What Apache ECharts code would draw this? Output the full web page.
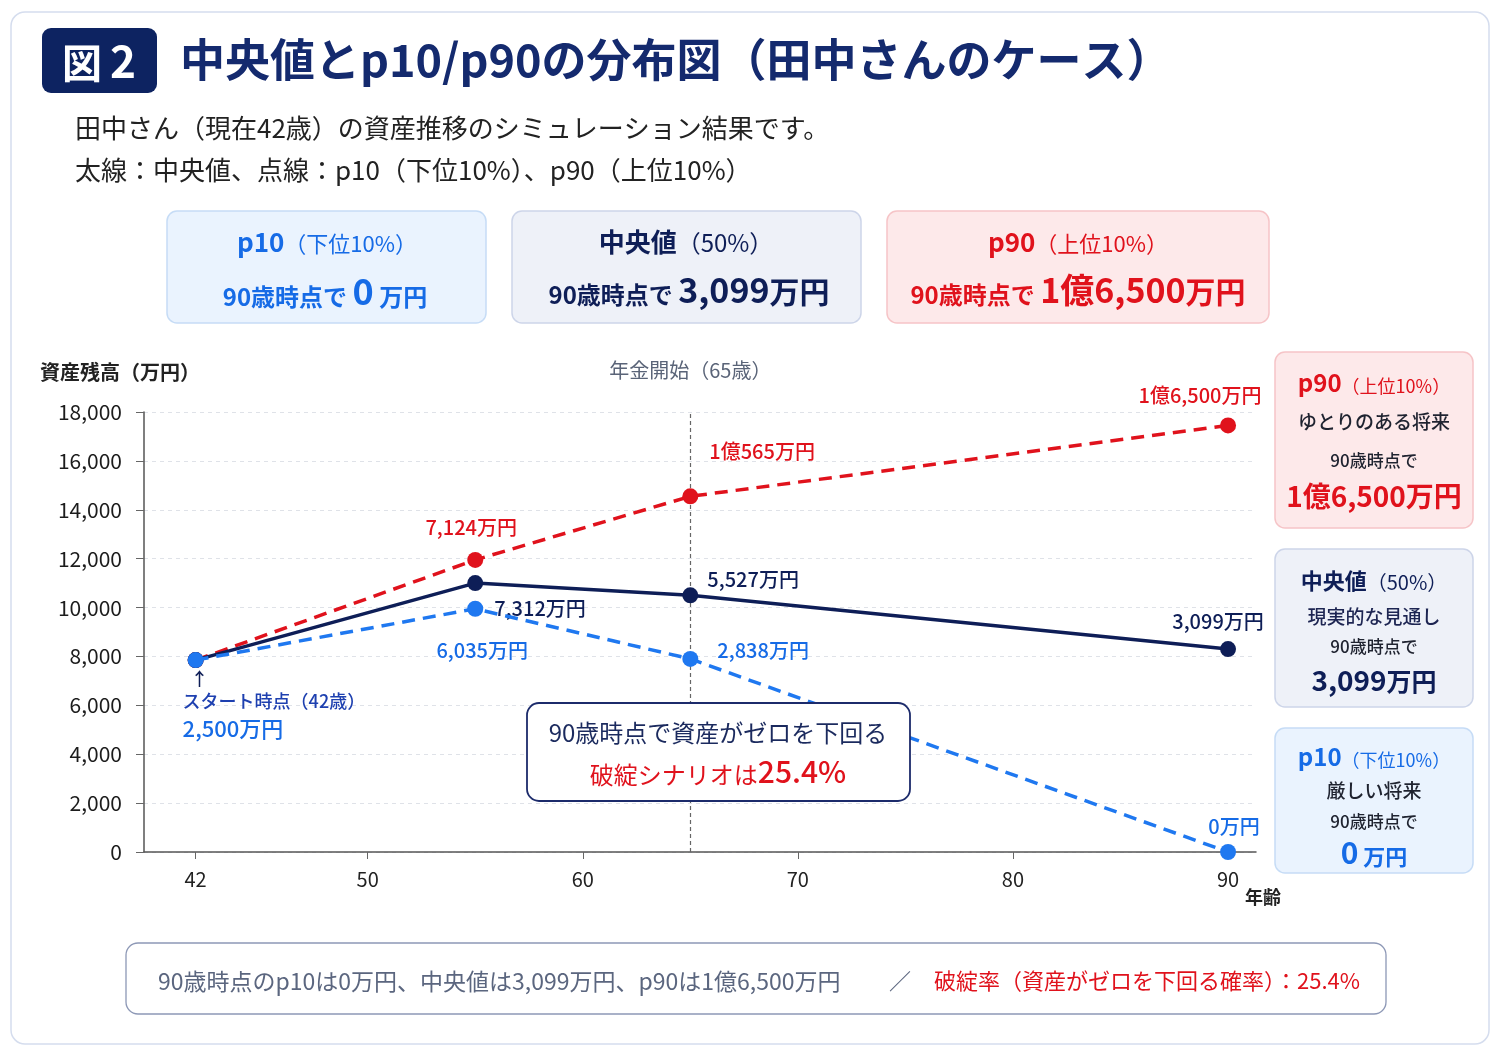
<!DOCTYPE html>
<html><head><meta charset="utf-8">
<script src="https://cdn.jsdelivr.net/npm/echarts@6.0.0/dist/echarts.min.js"></script>
<style>html,body{margin:0;padding:0;background:#fff}#c{width:1499px;height:1049px}</style>
</head><body><div id="c"></div>
<script>
// ---- data ----
const ages = [42, 55, 65, 90];
const p90Values = [7850, 11950, 14550, 17450];
const medianValues = [7850, 11000, 10500, 8300];
const p10Values = [7850, 9950, 7900, 0];
const p90Labels = ['', '7,124万円', '1億565万円', '1億6,500万円'];
const medianLabels = ['', '7,312万円', '5,527万円', '3,099万円'];
const p10Labels = ['', '6,035万円', '2,838万円', '0万円'];
const startLabel = ['↑', 'スタート時点（42歳）', '2,500万円'];
const xTickValues = [42, 50, 60, 70, 80, 90];
const yMin = 0, yMax = 18000, yInterval = 2000;
const pensionAge = 65;

// ---- style ----
const FF = '"Noto Sans CJK JP", "Noto Sans", sans-serif';
const NAVY = '#0e1e57', RED = '#e0121c', BLUE = '#1f78f0', BLUE_T = '#166be6', DARK = '#1f2330', GRAY = '#5b667f';
const PINK_F = '#fde9ea', PINK_S = '#f6c4c7', LB_F = '#eaf3fe', LB_S = '#c6dcf6', GB_F = '#eef1f8', GB_S = '#cdd5e9';

function mkData(vals, labels, cfgs, color) {
  return ages.map((a, i) => {
    const item = { value: [a, vals[i]] };
    if (cfgs[i]) item.label = Object.assign({ show: true, formatter: labels[i], color: color, fontSize: 20, fontFamily: FF, fontWeight: 500 }, cfgs[i]);
    return item;
  });
}
const p90Cfg = [null, { position: 'top', distance: 14, offset: [-4, 0] }, { position: 'right', distance: 11, offset: [0, -45] }, { position: 'top', distance: 12, offset: [-28, 0] }];
const medCfg = [null, { position: 'right', distance: 11, offset: [0, 25] }, { position: 'right', distance: 9, offset: [0, -16] }, { position: 'top', distance: 10, offset: [-10, 0] }];
const p10Cfg = [
  { position: 'bottom', align: 'left', distance: 2, offset: [-13, 0],
    formatter: '{a|' + startLabel[0] + '}\n{b|' + startLabel[1] + '}\n{c|' + startLabel[2] + '}',
    rich: { a: { fontSize: 18, color: NAVY, padding: [0, 0, 0, 8], lineHeight: 18, fontFamily: FF },
            b: { fontSize: 18, color: '#1e40b0', lineHeight: 26, fontFamily: FF, fontWeight: 500 },
            c: { fontSize: 22, color: BLUE_T, lineHeight: 30, fontFamily: FF, fontWeight: 500 } } },
  { position: 'bottom', distance: 24, offset: [7, 0] },
  { position: 'right', distance: 19, offset: [0, -8] },
  { position: 'top', distance: 8, offset: [6, 0] }
];

function rect(x, y, w, h, fill, stroke, lw, z, r) {
  return { type: 'rect', z: z || 1, shape: { x: x, y: y, width: w, height: h, r: r || 10 }, style: { fill: fill, stroke: stroke, lineWidth: lw || 1.5 } };
}
function text(x, y, t, size, color, weight, align, z) {
  return { type: 'text', z: z || 2, x: x, y: y, style: { text: t, fontSize: size, fill: color, fontWeight: weight || 'normal', fontFamily: FF, align: align || 'center', verticalAlign: 'middle' } };
}
function rtext(x, y, t, rich, z) {
  const r = {};
  Object.keys(rich).forEach(k => { r[k] = Object.assign({ fontFamily: FF, verticalAlign: 'bottom' }, rich[k]); });
  return { type: 'text', z: z || 2, x: x, y: y, style: { text: t, align: 'center', verticalAlign: 'middle', rich: r } };
}

const graphics = [
  rect(11, 12, 1478, 1032, 'none', '#d5ddee', 1.5, 0, 14),
  { type: 'rect', z: 1, shape: { x: 42, y: 28, width: 115, height: 65, r: 9 }, style: { fill: '#0d2361' } },
  rtext(99, 61, '{a|図}{b|2}', { a: { fontSize: 40, fontWeight: 'bold', fill: '#fff' }, b: { fontSize: 44, fontWeight: 'bold', fill: '#fff', padding: [0, 0, 0, 8] } }),
  text(180, 60, '中央値とp10/p90の分布図（田中さんのケース）', 45, '#142a6e', 'bold', 'left'),
  text(75, 128, '田中さん（現在42歳）の資産推移のシミュレーション結果です。', 26, '#222', 'normal', 'left'),
  text(75, 170, '太線：中央値、点線：p10（下位10%）、p90（上位10%）', 26, '#222', 'normal', 'left'),

  // summary boxes
  rect(167, 211, 319, 112, LB_F, LB_S),
  rtext(327, 242, '{a|p10}{b|（下位10%）}', { a: { fontSize: 26, fontWeight: 'bold', fill: BLUE_T }, b: { fontSize: 22, fill: BLUE_T } }),
  rtext(325, 291, '{a|90歳時点で }{b|0}{c| 万円}', { a: { fontSize: 24, fontWeight: 'bold', fill: BLUE_T }, b: { fontSize: 36, fontWeight: 'bold', fill: BLUE_T }, c: { fontSize: 24, fontWeight: 'bold', fill: BLUE_T } }),
  rect(512, 211, 349, 112, GB_F, GB_S),
  rtext(686, 242, '{a|中央値}{b|（50%）}', { a: { fontSize: 26, fontWeight: 'bold', fill: NAVY }, b: { fontSize: 24, fill: NAVY } }),
  rtext(689, 290, '{a|90歳時点で }{b|3,099}{c|万円}', { a: { fontSize: 24, fontWeight: 'bold', fill: NAVY }, b: { fontSize: 34, fontWeight: 'bold', fill: NAVY }, c: { fontSize: 30, fontWeight: 'bold', fill: NAVY } }),
  rect(887, 211, 382, 112, PINK_F, PINK_S),
  rtext(1078, 242, '{a|p90}{b|（上位10%）}', { a: { fontSize: 26, fontWeight: 'bold', fill: RED }, b: { fontSize: 22, fill: RED } }),
  rtext(1078, 290, '{a|90歳時点で }{b|1億6,500}{c|万円}', { a: { fontSize: 24, fontWeight: 'bold', fill: RED }, b: { fontSize: 34, fontWeight: 'bold', fill: RED }, c: { fontSize: 30, fontWeight: 'bold', fill: RED } }),

  // right side boxes
  rect(1275, 352, 198, 176, PINK_F, PINK_S),
  rtext(1374, 383, '{a|p90}{b|（上位10%）}', { a: { fontSize: 24, fontWeight: 'bold', fill: RED }, b: { fontSize: 18, fill: RED } }),
  text(1374, 422, 'ゆとりのある将来', 19, DARK, 500),
  text(1374, 461, '90歳時点で', 17, DARK, 500),
  rtext(1374, 496, '{a|1億6,500万円}', { a: { fontSize: 28, fontWeight: 'bold', fill: RED } }),
  rect(1275, 549, 198, 158, GB_F, GB_S),
  rtext(1374, 581, '{a|中央値}{b|（50%）}', { a: { fontSize: 22, fontWeight: 'bold', fill: NAVY }, b: { fontSize: 20, fill: NAVY } }),
  text(1374, 617, '現実的な見通し', 19, '#1d2552', 500),
  text(1374, 647, '90歳時点で', 17, DARK, 500),
  rtext(1374, 680, '{a|3,099}{b|万円}', { a: { fontSize: 28, fontWeight: 'bold', fill: NAVY }, b: { fontSize: 25, fontWeight: 'bold', fill: NAVY } }),
  rect(1275, 728, 198, 145, LB_F, LB_S),
  rtext(1374, 757, '{a|p10}{b|（下位10%）}', { a: { fontSize: 24, fontWeight: 'bold', fill: BLUE_T }, b: { fontSize: 18, fill: BLUE_T } }),
  text(1374, 791, '厳しい将来', 19, DARK, 500),
  text(1374, 822, '90歳時点で', 17, DARK, 500),
  rtext(1374, 853, '{a|0}{b| 万円}', { a: { fontSize: 30, fontWeight: 'bold', fill: BLUE_T }, b: { fontSize: 22, fontWeight: 'bold', fill: BLUE_T } }),

  // callout
  rect(527, 703, 383, 98, '#fff', '#1c2b6b', 1.8, 50, 12),
  text(718, 733, '90歳時点で資産がゼロを下回る', 24, '#1b2a5e', 'normal', 'center', 51),
  rtext(718, 772, '{a|破綻シナリオは}{b|25.4%}', { a: { fontSize: 24, fill: RED }, b: { fontSize: 30, fontWeight: 500, fill: RED } }, 51),

  // bottom summary
  rect(126, 943, 1260, 71, '#fff', '#8d98b6', 1.3, 1, 12),
  text(158, 981, '90歳時点のp10は0万円、中央値は3,099万円、p90は1億6,500万円', 23, GRAY, 'normal', 'left'),
  text(900, 981, '／', 22, GRAY, 'normal', 'center'),
  text(1360, 981, '破綻率（資産がゼロを下回る確率）：25.4%', 22, RED, 'normal', 'right')
];

const gridTop = 412, gridBottomPx = 852;

const option = {
  animation: false,
  backgroundColor: '#fff',
  grid: { left: 144, right: 243, top: gridTop, bottom: 1049 - gridBottomPx },
  xAxis: {
    type: 'value', min: 39.6, max: 91.3,
    name: '年齢', nameLocation: 'end', nameGap: -11,
    nameTextStyle: { fontSize: 18, fontWeight: 'bold', color: '#222', fontFamily: FF, verticalAlign: 'top', align: 'left', padding: [36, 0, 0, 0] },
    axisLine: { show: true, lineStyle: { color: '#555', width: 1.5 } },
    axisTick: { show: true, customValues: xTickValues, length: 7, lineStyle: { color: '#666' } },
    axisLabel: { customValues: xTickValues, fontSize: 20, color: '#222', fontFamily: FF, margin: 17 },
    splitLine: { show: false }
  },
  yAxis: {
    type: 'value', min: yMin, max: yMax, interval: yInterval,
    name: '資産残高（万円）', nameLocation: 'end', nameGap: 40,
    nameTextStyle: { fontSize: 20, fontWeight: 'bold', color: '#222', fontFamily: FF, align: 'center', verticalAlign: 'middle', padding: [0, 48, 0, 0] },
    axisLine: { show: true, lineStyle: { color: '#555', width: 1.5 } },
    axisTick: { show: true, length: 8, lineStyle: { color: '#666' } },
    axisLabel: { fontSize: 21, color: '#1c1c1c', fontFamily: FF, margin: 22, formatter: v => v.toLocaleString('en-US') },
    splitLine: { show: true, lineStyle: { color: '#dfe2e8', type: [4, 4], width: 1 } }
  },
  series: [
    { name: 'p90', type: 'line', z: 3, data: mkData(p90Values, p90Labels, p90Cfg, RED), symbol: 'circle', symbolSize: 16,
      itemStyle: { color: RED }, lineStyle: { color: RED, width: 3.5, type: [13, 8] }, label: { show: false }, emphasis: { disabled: true } },
    { name: '中央値', type: 'line', z: 4, data: mkData(medianValues, medianLabels, medCfg, NAVY), symbol: 'circle', symbolSize: 16,
      itemStyle: { color: NAVY }, lineStyle: { color: NAVY, width: 3.5 }, label: { show: false }, emphasis: { disabled: true },
      markLine: { silent: true, symbol: ['none', 'none'], animation: false, z: 1,
        lineStyle: { color: '#666', type: [4, 3], width: 1.2 },
        label: { show: true, position: 'end', formatter: '年金開始（' + pensionAge + '歳）', color: '#5a6478', fontSize: 20, fontFamily: FF, distance: 32 },
        data: [{ xAxis: pensionAge }] } },
    { name: 'p10', type: 'line', z: 5, data: mkData(p10Values, p10Labels, p10Cfg, BLUE_T), symbol: 'circle', symbolSize: 16,
      itemStyle: { color: BLUE }, lineStyle: { color: BLUE, width: 3.5, type: [13, 8] }, label: { show: false }, emphasis: { disabled: true } }
  ],
  graphic: { elements: graphics }
};

const chart = echarts.init(document.getElementById('c'));
chart.setOption(option);
</script>
</body></html>
